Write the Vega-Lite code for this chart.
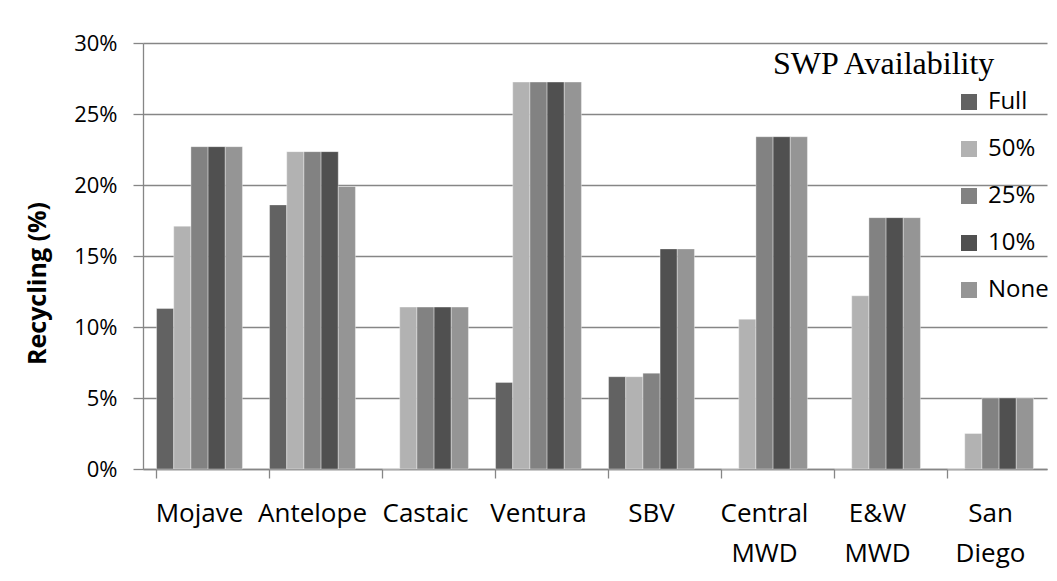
{
  "$schema": "https://vega.github.io/schema/vega-lite/v6.json",
  "width": 904,
  "height": 426,
  "autosize": {"type": "none"},
  "padding": {"left": 143, "top": 43, "right": 10, "bottom": 112},
  "background": "white",
  "data": {
    "values": [
      {"agency": "Mojave", "swp": "Full", "recycling": 0.113},
      {"agency": "Mojave", "swp": "50%", "recycling": 0.171},
      {"agency": "Mojave", "swp": "25%", "recycling": 0.227},
      {"agency": "Mojave", "swp": "10%", "recycling": 0.227},
      {"agency": "Mojave", "swp": "None", "recycling": 0.227},
      {"agency": "Antelope", "swp": "Full", "recycling": 0.186},
      {"agency": "Antelope", "swp": "50%", "recycling": 0.2235},
      {"agency": "Antelope", "swp": "25%", "recycling": 0.2235},
      {"agency": "Antelope", "swp": "10%", "recycling": 0.2235},
      {"agency": "Antelope", "swp": "None", "recycling": 0.199},
      {"agency": "Castaic", "swp": "Full", "recycling": 0},
      {"agency": "Castaic", "swp": "50%", "recycling": 0.114},
      {"agency": "Castaic", "swp": "25%", "recycling": 0.114},
      {"agency": "Castaic", "swp": "10%", "recycling": 0.114},
      {"agency": "Castaic", "swp": "None", "recycling": 0.114},
      {"agency": "Ventura", "swp": "Full", "recycling": 0.061},
      {"agency": "Ventura", "swp": "50%", "recycling": 0.2725},
      {"agency": "Ventura", "swp": "25%", "recycling": 0.2725},
      {"agency": "Ventura", "swp": "10%", "recycling": 0.2725},
      {"agency": "Ventura", "swp": "None", "recycling": 0.2725},
      {"agency": "SBV", "swp": "Full", "recycling": 0.065},
      {"agency": "SBV", "swp": "50%", "recycling": 0.065},
      {"agency": "SBV", "swp": "25%", "recycling": 0.0675},
      {"agency": "SBV", "swp": "10%", "recycling": 0.155},
      {"agency": "SBV", "swp": "None", "recycling": 0.155},
      {"agency": "Central MWD", "swp": "Full", "recycling": 0},
      {"agency": "Central MWD", "swp": "50%", "recycling": 0.1055},
      {"agency": "Central MWD", "swp": "25%", "recycling": 0.234},
      {"agency": "Central MWD", "swp": "10%", "recycling": 0.234},
      {"agency": "Central MWD", "swp": "None", "recycling": 0.234},
      {"agency": "E&W MWD", "swp": "Full", "recycling": 0},
      {"agency": "E&W MWD", "swp": "50%", "recycling": 0.122},
      {"agency": "E&W MWD", "swp": "25%", "recycling": 0.177},
      {"agency": "E&W MWD", "swp": "10%", "recycling": 0.177},
      {"agency": "E&W MWD", "swp": "None", "recycling": 0.177},
      {"agency": "San Diego", "swp": "Full", "recycling": 0},
      {"agency": "San Diego", "swp": "50%", "recycling": 0.025},
      {"agency": "San Diego", "swp": "25%", "recycling": 0.05},
      {"agency": "San Diego", "swp": "10%", "recycling": 0.05},
      {"agency": "San Diego", "swp": "None", "recycling": 0.05}
    ]
  },
  "mark": {"type": "bar", "stroke": "white", "strokeWidth": 0.6, "strokeOpacity": 0.6},
  "encoding": {
    "x": {
      "field": "agency",
      "type": "nominal",
      "sort": ["Mojave", "Antelope", "Castaic", "Ventura", "SBV", "Central MWD", "E&W MWD", "San Diego"],
      "scale": {"paddingInner": 0.24, "paddingOuter": 0.12},
      "axis": {
        "title": null,
        "labelAngle": 0,
        "labelFont": "Open Sans",
        "labelFontSize": 26,
        "labelColor": "black",
        "labelPadding": 22,
        "labelLineHeight": 40,
        "labelOverlap": false,
        "labelExpr": "split(datum.label, ' ')",
        "bandPosition": 0,
        "tickSize": 9,
        "tickWidth": 1.3,
        "tickColor": "#868686",
        "domainColor": "#868686",
        "domainWidth": 1.3,
        "grid": false
      }
    },
    "xOffset": {
      "field": "swp",
      "type": "nominal",
      "sort": ["Full", "50%", "25%", "10%", "None"],
      "scale": {"paddingInner": 0, "paddingOuter": 0}
    },
    "y": {
      "field": "recycling",
      "type": "quantitative",
      "scale": {"domain": [0, 0.3]},
      "axis": {
        "title": "Recycling (%)",
        "titleFont": "Open Sans",
        "titleFontSize": 25,
        "titleFontWeight": "bold",
        "titleColor": "black",
        "titleX": -106,
        "titleY": 240,
        "titleAngle": 270,
        "titleAlign": "center",
        "titleBaseline": "middle",
        "values": [0, 0.05, 0.1, 0.15, 0.2, 0.25, 0.3],
        "format": ".0%",
        "labelFont": "Open Sans",
        "labelFontSize": 22,
        "labelColor": "black",
        "labelPadding": 16,
        "tickSize": 10,
        "tickWidth": 1.3,
        "tickColor": "#868686",
        "domainColor": "#868686",
        "domainWidth": 1.3,
        "grid": true,
        "gridColor": "#868686",
        "gridWidth": 1.3
      }
    },
    "color": {
      "field": "swp",
      "type": "nominal",
      "scale": {
        "domain": ["Full", "50%", "25%", "10%", "None"],
        "range": ["#626262", "#b2b2b2", "#828282", "#505050", "#959595"]
      },
      "legend": {
        "orient": "none",
        "legendX": 630,
        "legendY": 6,
        "padding": 0,
        "title": "SWP Availability",
        "titleFont": "Liberation Serif",
        "titleFontSize": 32,
        "titleFontWeight": "normal",
        "titleColor": "black",
        "titleLimit": 400,
        "titlePadding": 9,
        "symbolType": "square",
        "symbolSize": 256,
        "symbolOffset": 184,
        "symbolStrokeWidth": 0,
        "symbolOpacity": 1,
        "labelFont": "Open Sans",
        "labelFontSize": 24,
        "labelColor": "black",
        "labelOffset": 7,
        "rowPadding": 23
      }
    }
  },
  "config": {"view": {"stroke": null}}
}
